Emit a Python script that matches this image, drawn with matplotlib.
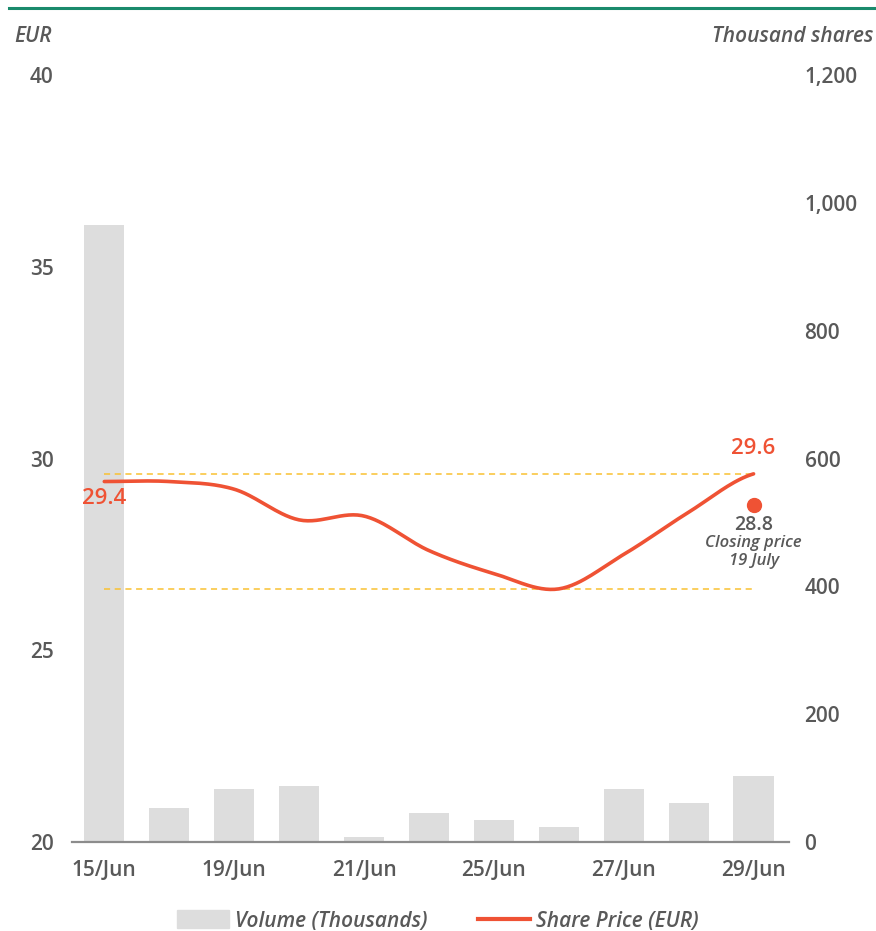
import numpy as np
import matplotlib
matplotlib.use("Agg")
import matplotlib.pyplot as plt
from matplotlib.lines import Line2D
from matplotlib.patches import Patch

# data
dates = ["15/Jun", "16/Jun", "19/Jun", "20/Jun", "21/Jun", "22/Jun",
         "25/Jun", "26/Jun", "27/Jun", "28/Jun", "29/Jun"]
shown_dates = ["15/Jun", "19/Jun", "21/Jun", "25/Jun", "27/Jun", "29/Jun"]
volume = [965, 53, 83, 88, 8, 45, 34, 23, 83, 61, 103]
price = [29.4, 29.4, 29.2, 28.4, 28.5, 27.6, 27.0, 26.6, 27.5, 28.6, 29.6]
closing_price = 28.8
closing_label = "Closing price\n19 July"

grey_txt = "#595959"
red = "#EF5234"
bar_col = "#DDDDDD"
gold = "#F9C132"

plt.rcParams["font.family"] = ["Open Sans", "DejaVu Sans"]
W = "semibold"
FS = 15


def catmull_rom(y, n=30):
    # smooth line through the points, like the original chart's smoothed series
    pts = np.array(y, dtype=float)
    p = np.concatenate(([pts[0]], pts, [pts[-1]]))
    xs, ys = [], []
    for i in range(len(pts) - 1):
        p0, p1, p2, p3 = p[i], p[i + 1], p[i + 2], p[i + 3]
        t = np.linspace(0, 1, n, endpoint=False)
        yy = 0.5 * ((2 * p1) + (-p0 + p2) * t + (2 * p0 - 5 * p1 + 4 * p2 - p3) * t**2
                    + (-p0 + 3 * p1 - 3 * p2 + p3) * t**3)
        xs.append(i + t)
        ys.append(yy)
    xs.append([len(pts) - 1])
    ys.append([pts[-1]])
    return np.concatenate(xs), np.concatenate(ys)


fig = plt.figure(figsize=(8.76, 9.31), dpi=100)
ax = fig.add_axes([0.082, 0.0956, 0.819, 0.8238])
ax2 = ax.twinx()

x = np.arange(len(dates))

# volume bars on the right axis
ax2.bar(x, volume, width=0.62, color=bar_col, zorder=1)
ax2.set_ylim(0, 1200)
ax2.set_yticks([0, 200, 400, 600, 800, 1000, 1200])
ax2.set_yticklabels([f"{v:,}" for v in [0, 200, 400, 600, 800, 1000, 1200]])

# price line on the left axis, drawn above the bars
ax.set_zorder(ax2.get_zorder() + 1)
ax.patch.set_visible(False)
sx, sy = catmull_rom(price)
ax.plot(sx, sy, color=red, lw=2.6, solid_capstyle="round", zorder=3)
ax.hlines([max(price), min(price)], 0, len(dates) - 1, colors=gold,
          linestyles=(0, (4, 3)), lw=1.1, zorder=2)
ax.set_ylim(20, 40)
ax.set_yticks([20, 25, 30, 35, 40])
ax.set_xlim(-0.5, 10.55)
ax.set_xticks(x)
ax.set_xticklabels([d if d in shown_dates else "" for d in dates])

# closing price marker
ax.plot([len(dates) - 1], [closing_price], "o", color=red, ms=10, zorder=4)
ax.text(len(dates) - 1, closing_price - 0.26, f"{closing_price}", ha="center", va="top",
        fontsize=14, color=grey_txt, fontweight=W)
ax.text(len(dates) - 1, closing_price - 0.8, closing_label, ha="center", va="top",
        fontsize=12, color=grey_txt, style="italic", fontweight=W,
        linespacing=1.15)

# first / last price labels
ax.text(0, price[0] - 0.18, f"{price[0]}", ha="center", va="top", fontsize=16,
        color=red, fontweight=W)
ax.text(len(dates) - 1, price[-1] + 0.4, f"{price[-1]}", ha="center", va="bottom",
        fontsize=16, color=red, fontweight=W)

for a in (ax, ax2):
    for s in ("top", "left", "right", "bottom"):
        a.spines[s].set_visible(False)
    a.tick_params(length=0, labelsize=FS, labelcolor=grey_txt)
    for lab in a.get_yticklabels() + a.get_xticklabels():
        lab.set_fontweight(W)
ax.spines["bottom"].set_visible(True)
ax.spines["bottom"].set_color("#8C8C8C")
ax.spines["bottom"].set_linewidth(1.6)
ax.tick_params(axis="y", pad=13)
ax.tick_params(axis="x", pad=13)
ax2.tick_params(axis="y", pad=11)
for lab in ax.get_yticklabels():
    lab.set_horizontalalignment("right")

# unit titles
fig.text(14 / 876, 1 - 36 / 931, "EUR", ha="left", va="center", fontsize=FS,
         color=grey_txt, style="italic", fontweight=W)
fig.text(873 / 876, 1 - 36 / 931, "Thousand shares", ha="right", va="center",
         fontsize=FS, color=grey_txt, style="italic", fontweight=W)

# green rule at the top
fig.add_artist(Line2D([9 / 876, 1], [1 - 8 / 931, 1 - 8 / 931], color="#1A8A6C",
                      lw=2.2, transform=fig.transFigure))

handles = [Patch(color=bar_col, label="Volume (Thousands)"),
           Line2D([0], [0], color=red, lw=3, label="Share Price (EUR)")]
leg = fig.legend(handles=handles, loc="center", bbox_to_anchor=(0.5, 1 - 921 / 931),
                 ncol=2, frameon=False, handlelength=2.5, handleheight=0.95,
                 handletextpad=0.3, columnspacing=2.4,
                 prop={"size": FS, "style": "italic", "weight": W})
for t in leg.get_texts():
    t.set_color(grey_txt)

fig.savefig("out.png", dpi=100)
